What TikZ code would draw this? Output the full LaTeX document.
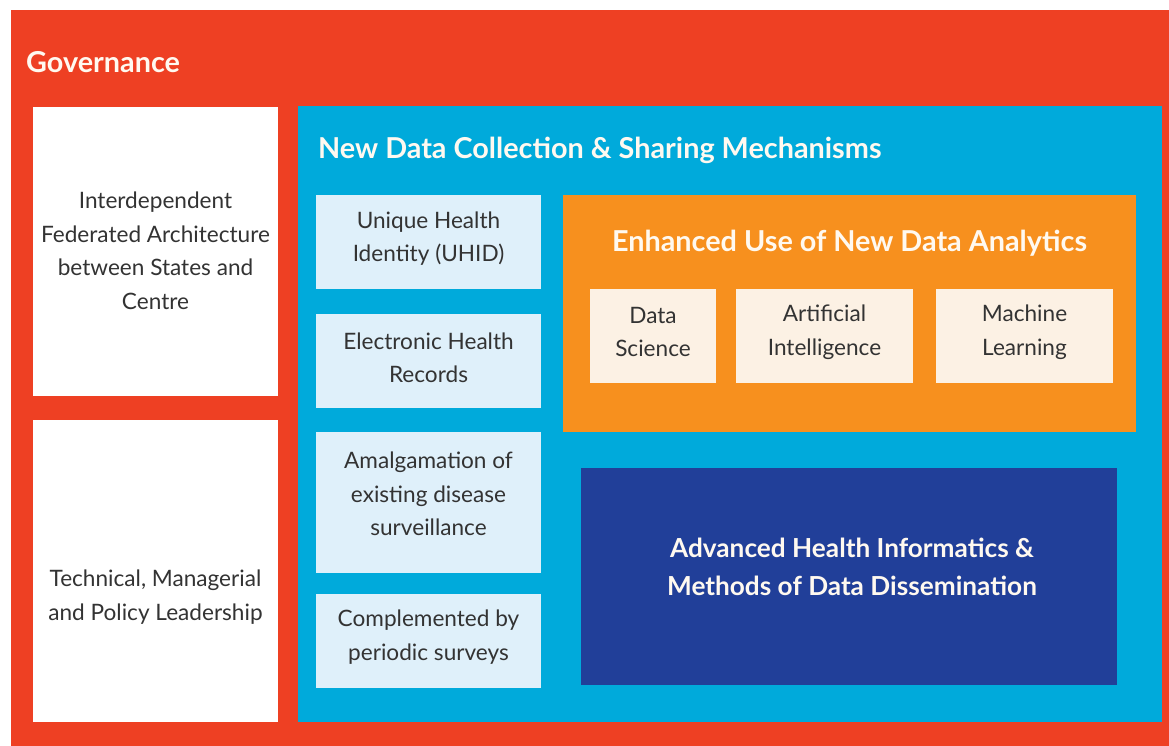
\documentclass[tikz,border=0pt]{standalone}
\usepackage{fontspec}
\setmainfont{Lato}
\definecolor{govred}{HTML}{EE4023}
\definecolor{dcblue}{HTML}{00AADB}
\definecolor{lightbox}{HTML}{DFF0FA}
\definecolor{anorange}{HTML}{F7901E}
\definecolor{creambox}{HTML}{FCF1E4}
\definecolor{navybox}{HTML}{213F99}
\definecolor{bodytext}{HTML}{333333}
\definecolor{titlewhite}{HTML}{FFF9F0}
\tikzset{
  panel/.style={inner sep=0pt, outer sep=0pt, draw=none},
  bodyfont/.style={font=\fontsize{22.6}{33.5}\selectfont, text=bodytext, align=center, inner sep=0pt},
  titlefont/.style={font=\fontsize{28.8}{34}\selectfont\bfseries, text=titlewhite, inner sep=0pt},
  subtitlefont/.style={font=\fontsize{26.2}{38}\selectfont\bfseries, text=titlewhite, align=center, inner sep=0pt},
}
\begin{document}
\begin{tikzpicture}[x=1pt,y=-1pt]
\useasboundingbox (0,0) rectangle (1169,746);
\fill[white] (0,0) rectangle (1169,746);
% Governance frame
\node[panel, fill=govred, anchor=north west, minimum width=1158pt, minimum height=736pt] (gov) at (11,10) {};
\node[titlefont, anchor=west] (govt) at (26,62) {Governance};
% left white boxes
\node[panel, fill=white, minimum width=245pt, minimum height=289pt] (fed) at (155.5,251.5) {};
\node[bodyfont] (fedt) at (155.5,251) {Interdependent\\Federated Architecture\\between States and\\Centre};
\node[panel, fill=white, minimum width=245pt, minimum height=302pt] (lead) at (155.5,571) {};
\node[bodyfont] (leadt) at (155.5,597) {Technical, Managerial\\and Policy Leadership};
% blue panel
\node[panel, fill=dcblue, minimum width=864pt, minimum height=616pt] (dc) at (730,414) {};
\node[titlefont, anchor=west] (dct) at (318,150) {New Data Collection \& Sharing Mechanisms};
% light boxes
\node[panel, fill=lightbox, minimum width=225pt, minimum height=94pt] (uhid) at (428.5,242) {};
\node[bodyfont] (uhidt) at (428.5,238.5) {Unique Health\\Identity (UHID)};
\node[panel, fill=lightbox, minimum width=225pt, minimum height=94pt] (ehr) at (428.5,361) {};
\node[bodyfont] (ehrt) at (428.5,358) {Electronic Health\\Records};
\node[panel, fill=lightbox, minimum width=225pt, minimum height=141pt] (amal) at (428.5,502.5) {};
\node[bodyfont] (amalt) at (428.5,494) {Amalgamation of\\existing disease\\surveillance};
\node[panel, fill=lightbox, minimum width=225pt, minimum height=94pt] (surv) at (428.5,641) {};
\node[bodyfont] (survt) at (428.5,637) {Complemented by\\periodic surveys};
% orange panel
\node[panel, fill=anorange, minimum width=573pt, minimum height=237pt] (ana) at (849.5,313.5) {};
\node[titlefont] (anat) at (849.5,243) {Enhanced Use of New Data Analytics};
\node[panel, fill=creambox, minimum width=126pt, minimum height=94pt] (ds) at (653,336) {};
\node[bodyfont] (dst) at (653,332) {Data\\Science};
\node[panel, fill=creambox, minimum width=177pt, minimum height=94pt] (ai) at (824.5,336) {};
\node[bodyfont] (ait) at (824.5,332) {Artificial\\Intelligence};
\node[panel, fill=creambox, minimum width=177pt, minimum height=94pt] (ml) at (1024.5,336) {};
\node[bodyfont] (mlt) at (1024.5,332) {Machine\\Learning};
% navy panel
\node[panel, fill=navybox, minimum width=536pt, minimum height=217pt] (ahi) at (849,576.5) {};
\node[subtitlefont] (ahit) at (852,567) {Advanced Health Informatics \&\\Methods of Data Dissemination};
\end{tikzpicture}
\end{document}
